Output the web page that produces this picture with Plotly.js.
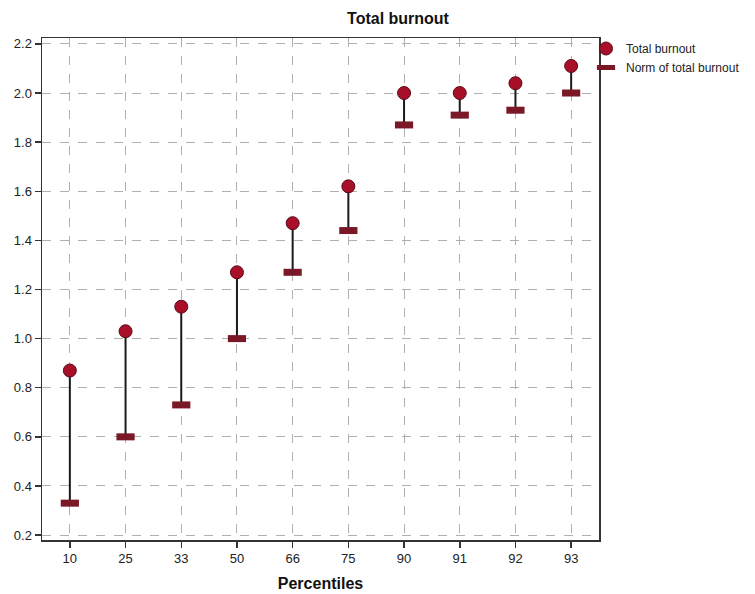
<!DOCTYPE html>
<html>
<head>
<meta charset="utf-8">
<script src="https://cdn.plot.ly/plotly-3.0.1.min.js"></script>
<style>html,body{margin:0;padding:0;background:#fff;}#chart{width:755px;height:594px;}</style>
</head>
<body>
<div id="chart"></div>
<script>
const percentiles = ['10','25','33','50','66','75','90','91','92','93'];
const totalBurnout = [0.87, 1.03, 1.13, 1.27, 1.47, 1.62, 2.00, 2.00, 2.04, 2.11];
const normBurnout = [0.33, 0.60, 0.73, 1.00, 1.27, 1.44, 1.87, 1.91, 1.93, 2.00];

const lx = [], ly = [];
for (let i = 0; i < percentiles.length; i++) {
  lx.push(percentiles[i], percentiles[i], null);
  ly.push(normBurnout[i], totalBurnout[i], null);
}

const traces = [
  {x: lx, y: ly, mode: 'lines', line: {color: '#1a1a1a', width: 2}, showlegend: false, hoverinfo: 'skip'},
  {x: percentiles, y: normBurnout, mode: 'markers', name: 'Norm of total burnout',
   marker: {symbol: 'line-ew', size: 13, line: {color: '#7a1828', width: 7}}},
  {x: percentiles, y: totalBurnout, mode: 'markers', name: 'Total burnout',
   marker: {symbol: 'circle', size: 13, color: '#a8102a', line: {color: '#5a0a16', width: 1}}}
];

const font = {family: 'Liberation Sans, Arial, sans-serif', size: 13, color: '#222'};
const layout = {
  width: 755, height: 594,
  margin: {l: 42, r: 156, t: 38, b: 54, autoexpand: false},
  paper_bgcolor: '#fff', plot_bgcolor: '#fff',
  font: font,
  title: {text: '<b>Total burnout</b>', font: {family: 'Liberation Sans, Arial, sans-serif', size: 16, color: '#111'},
          x: 398/755, xref: 'container', xanchor: 'center', y: 1 - 18/594, yref: 'container', yanchor: 'middle'},
  xaxis: {type: 'category', range: [-0.5, 9.5], showline: true, linecolor: '#333', linewidth: 1.5, mirror: true,
          ticks: 'outside', ticklen: 6, tickcolor: '#333', tickwidth: 1.5,
          showgrid: true, gridcolor: '#b0b0b0', griddash: 'dash', gridwidth: 1, zeroline: false,
          title: {text: '<b>Percentiles</b>', font: {family: 'Liberation Sans, Arial, sans-serif', size: 16, color: '#111'}, standoff: 12},
          tickfont: font},
  yaxis: {range: [0.18, 2.224], dtick: 0.2, tick0: 0.2, tickformat: '.1f', showline: true, linecolor: '#333', linewidth: 1.5, mirror: true,
          ticks: 'outside', ticklen: 6, tickcolor: '#333', tickwidth: 1.5,
          showgrid: true, gridcolor: '#b0b0b0', griddash: 'dash', gridwidth: 1, zeroline: false,
          tickfont: font},
  legend: {xref: 'container', yref: 'container', x: 586/755, xanchor: 'left', y: 1 - 34/594, yanchor: 'top', traceorder: 'reversed',
           font: {family: 'Liberation Sans, Arial, sans-serif', size: 12, color: '#222'},
           bgcolor: 'rgba(0,0,0,0)', itemwidth: 30, tracegroupgap: 0}
};

Plotly.newPlot('chart', traces, layout, {displayModeBar: false, staticPlot: true});
</script>
</body>
</html>
